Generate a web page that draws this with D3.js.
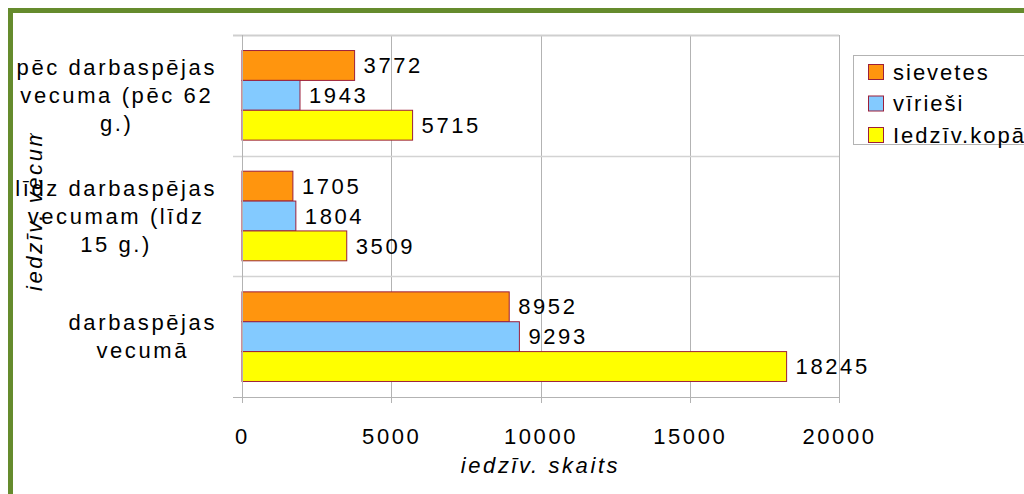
<!DOCTYPE html>
<html>
<head>
<meta charset="utf-8">
<script src="https://cdn.jsdelivr.net/npm/d3@7"></script>
<style>
  body { margin: 0; background: #fff; }
  text { font-family: "Liberation Sans", Arial, sans-serif; fill: #000; }
</style>
</head>
<body>
<div id="chart"></div>
<script>
// categories (top to bottom) and how their labels wrap
const categories = ["pēc darbaspējas vecuma (pēc 62 g.)", "līdz darbaspējas vecumam (līdz 15 g.)", "darbaspējas vecumā"];
const categoryLines = [["pēc darbaspējas", "vecuma (pēc 62", "g.)"], ["līdz darbaspējas", "vecumam (līdz", "15 g.)"], ["darbaspējas", "vecumā"]];

const seriesNames = ["sievetes", "vīrieši", "Iedzīv.kopā"];
const sievetes = [3772, 1705, 8952];
const viriesi = [1943, 1804, 9293];
const kopa = [5715, 3509, 18245];

const xTicks = [0, 5000, 10000, 15000, 20000];
const xTitle = "iedzīv. skaits";
const yTitle = "iedzīv. vecums";

const colors = ["#ff950e", "#83caff", "#ffff00"];
const barStroke = "#9c1f3a";
const gridColor = "#b3b3b3";

const width = 1024;
const height = 494;
const margin = { top: 35, right: 185, bottom: 97, left: 242 };
const fontSize = 22;
const spacing = "2.6px";

const series = [sievetes, viriesi, kopa];
const table = categories.map((c, i) => ({
  cat: c,
  values: seriesNames.map((s, j) => ({ name: s, value: series[j][i], idx: j }))
}));

const svg = d3.select("#chart")
    .append("svg")
    .attr("width", width)
    .attr("height", height);

// green frame
svg.append("rect")
    .attr("x", 10.5).attr("y", 10.5)
    .attr("width", width + 20).attr("height", height + 20)
    .attr("fill", "none")
    .attr("stroke", "#658b2d")
    .attr("stroke-width", 5);

const x = d3.scaleLinear()
    .domain([0, 20000])
    .range([margin.left, width - margin.right]);

const y0 = d3.scaleBand()
    .domain(categories)
    .range([margin.top, height - margin.bottom]);

const y1 = d3.scaleBand()
    .domain(seriesNames)
    .range([0, y0.bandwidth()])
    .paddingOuter(0.52);

// vertical grid
svg.append("g")
  .selectAll("line")
  .data(xTicks)
  .join("line")
    .attr("x1", d => Math.round(x(d)) + 0.5)
    .attr("x2", d => Math.round(x(d)) + 0.5)
    .attr("y1", margin.top)
    .attr("y2", height - margin.bottom + 6)
    .attr("stroke", gridColor);

// category boundaries (grid + outer ticks)
const bounds = categories.map(c => y0(c));
svg.append("g")
  .selectAll("line")
  .data(bounds)
  .join("line")
    .attr("x1", margin.left - 9)
    .attr("x2", x(20000))
    .attr("y1", d => Math.round(d) + 0.5)
    .attr("y2", d => Math.round(d) + 0.5)
    .attr("stroke", (d, i) => i === 0 ? "#cfcfcf" : "#d3d3d3")
    .attr("stroke-width", (d, i) => i === 0 ? 2 : 1.5);

// bottom axis
const xAxis = g => g
    .attr("transform", `translate(0, ${Math.round(height - margin.bottom) + 0.5})`)
    .call(d3.axisBottom(x).tickValues(xTicks).tickSize(6).tickSizeOuter(0).tickFormat(d3.format("d")))
    .call(g => g.select(".domain").remove())
    .call(g => g.selectAll(".tick line").remove())
    .call(g => g.selectAll("text")
        .attr("font-family", null)
        .attr("font-size", fontSize)
        .attr("letter-spacing", spacing)
        .attr("fill", "#000")
        .attr("y", 31)
        .attr("dy", "0.71em"));
svg.append("g").call(xAxis);

svg.append("line")
    .attr("x1", margin.left - 9)
    .attr("x2", x(20000))
    .attr("y1", Math.round(height - margin.bottom) + 0.5)
    .attr("y2", Math.round(height - margin.bottom) + 0.5)
    .attr("stroke", gridColor);

// bars
const groups = svg.append("g")
  .selectAll("g")
  .data(table)
  .join("g")
    .attr("transform", d => `translate(0, ${y0(d.cat)})`);

groups.selectAll("rect")
  .data(d => d.values)
  .join("rect")
    .attr("x", x(0))
    .attr("y", d => y1(d.name))
    .attr("width", d => x(d.value) - x(0))
    .attr("height", y1.bandwidth())
    .attr("fill", d => colors[d.idx])
    .attr("stroke", barStroke)
    .attr("stroke-width", 1);

groups.selectAll("text")
  .data(d => d.values)
  .join("text")
    .attr("x", d => x(d.value) + 9)
    .attr("y", d => y1(d.name) + y1.bandwidth() / 2)
    .attr("dy", "0.35em")
    .attr("font-size", fontSize)
    .attr("letter-spacing", spacing)
    .text(d => d.value);

// y axis line
svg.append("line")
    .attr("x1", margin.left + 0.5)
    .attr("x2", margin.left + 0.5)
    .attr("y1", margin.top)
    .attr("y2", height - margin.bottom + 6)
    .attr("stroke", gridColor);

// category labels: each block right-aligned at labelRight, lines centred inside it
const lineH = 28;
const labelRight = 217;
svg.append("g")
  .selectAll("text")
  .data(categories)
  .join("text")
    .attr("text-anchor", "middle")
    .attr("font-size", fontSize)
    .attr("letter-spacing", spacing)
    .each(function(c, i) {
      const lines = categoryLines[i];
      const cy = y0(c) + y0.bandwidth() / 2;
      const spans = d3.select(this).selectAll("tspan")
        .data(lines)
        .join("tspan")
          .attr("y", (l, k) => cy + (k - (lines.length - 1) / 2) * lineH)
          .attr("dy", "0.35em")
          .text(l => l);
      const maxW = d3.max(spans.nodes(), n => n.getComputedTextLength());
      spans.attr("x", labelRight - maxW / 2);
    });

// y title, cut off at the top like the original
svg.append("clipPath").attr("id", "yclip")
  .append("rect")
    .attr("x", 0).attr("y", -40)
    .attr("width", 291 - 133).attr("height", 60);
svg.append("text")
    .attr("clip-path", "url(#yclip)")
    .attr("transform", "translate(42, 291) rotate(-90)")
    .attr("font-size", fontSize)
    .attr("font-style", "italic")
    .attr("letter-spacing", spacing)
    .text(yTitle);

// x title
svg.append("text")
    .attr("x", (x(0) + x(20000)) / 2)
    .attr("y", 473)
    .attr("text-anchor", "middle")
    .attr("font-size", fontSize)
    .attr("font-style", "italic")
    .attr("letter-spacing", spacing)
    .text(xTitle);

// legend
const legend = svg.append("g");
legend.append("rect")
    .attr("x", 853.5).attr("y", 55.5)
    .attr("width", 200).attr("height", 89)
    .attr("fill", "#fff")
    .attr("stroke", gridColor);

const rows = legend.selectAll("g")
  .data(seriesNames)
  .join("g")
    .attr("transform", (d, i) => `translate(868, ${72 + i * 31.5})`);

rows.append("rect")
    .attr("x", 0.5).attr("y", -7.5)
    .attr("width", 15).attr("height", 15)
    .attr("fill", (d, i) => colors[i])
    .attr("stroke", barStroke);

rows.append("text")
    .attr("x", 25)
    .attr("dy", "0.35em")
    .attr("font-size", fontSize)
    .attr("letter-spacing", "2px")
    .text(d => d);
</script>
</body>
</html>
